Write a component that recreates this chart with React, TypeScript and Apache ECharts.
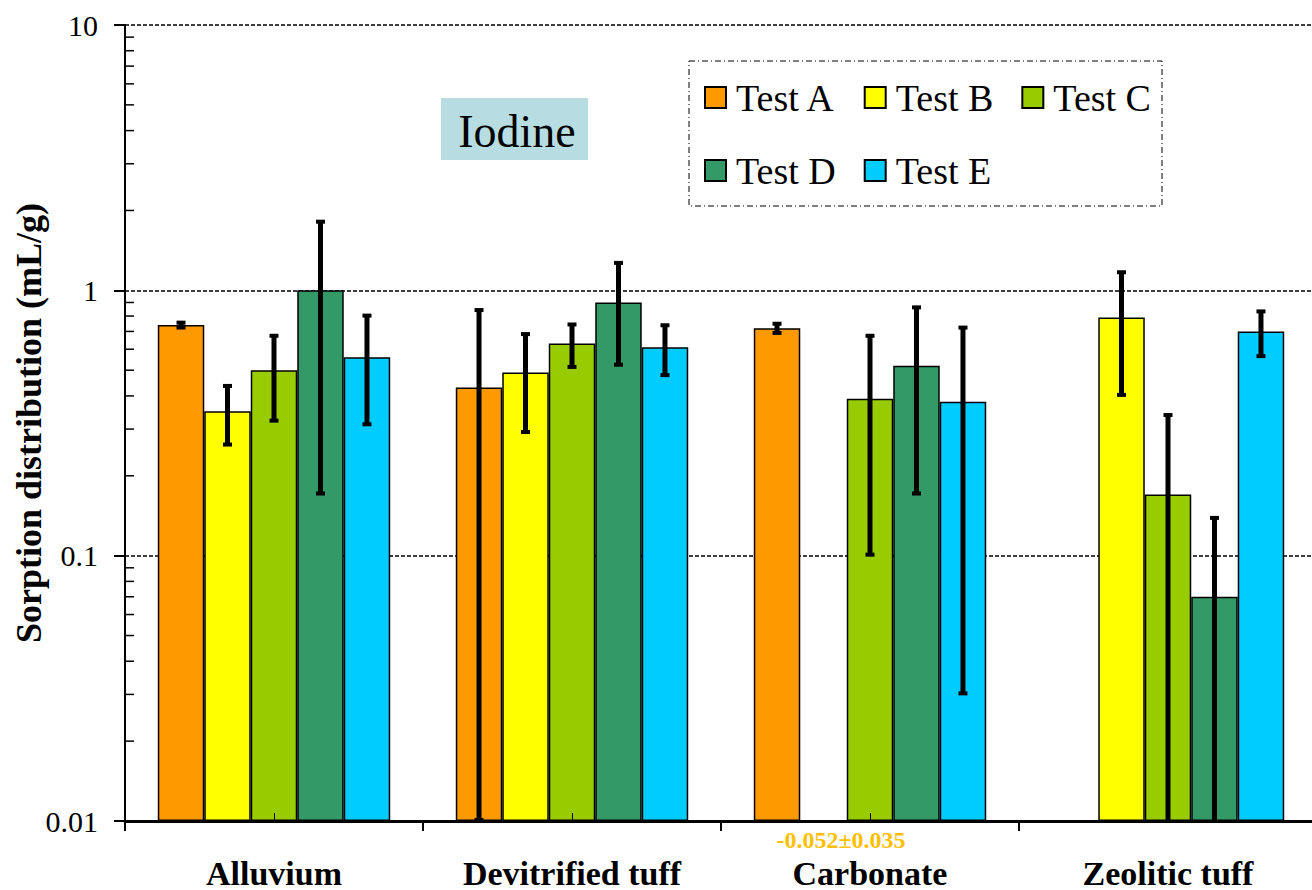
import React, { useEffect, useRef } from "react";
import * as echarts from "echarts";

const categories = ["Alluvium", "Devitrified tuff", "Carbonate", "Zeolitic tuff"];
const testNames = ["Test A", "Test B", "Test C", "Test D", "Test E"];
const testColors = ["#FF9900", "#FFFF00", "#99CC00", "#339966", "#00CCFF"];

const testA = [0.74, 0.43, 0.72, null];
const testB = [0.35, 0.49, null, 0.79];
const testC = [0.5, 0.63, 0.39, 0.17];
const testD = [1.0, 0.9, 0.52, 0.07];
const testE = [0.56, 0.61, 0.38, 0.7];

const errA = [0.022, 0.42, 0.035, null];
const errB = [0.09, 0.2, null, 0.39];
const errC = [0.18, 0.12, 0.29, 0.172];
const errD = [0.83, 0.38, 0.35, 0.07];
const errE = [0.25, 0.135, 0.35, 0.14];

const yTicks = ["0.01", "0.1", "1", "10"];
const minorTicks = [
  0.02, 0.03, 0.04, 0.05, 0.06, 0.07, 0.08, 0.09,
  0.2, 0.3, 0.4, 0.5, 0.6, 0.7, 0.8, 0.9,
  2, 3, 4, 5, 6, 7, 8, 9,
];
const noteText = "-0.052±0.035";

const values = [testA, testB, testC, testD, testE];
const errors = [errA, errB, errC, errD, errE];

const FONT = "Liberation Serif";
const Y_MIN = 0.01;

export default function App() {
  const ref = useRef<HTMLDivElement>(null);

  useEffect(() => {
    if (!ref.current) return;
    const chart = echarts.init(ref.current, undefined, { renderer: "svg" });

    const errData: any[] = [];
    values.forEach((arr, ti) => {
      arr.forEach((v, ci) => {
        const e = errors[ti][ci];
        if (v != null && e != null) errData.push([ci, ti, v, e]);
      });
    });

    const barSeries = testNames.map((name, ti) => ({
      name,
      type: "bar",
      xAxisIndex: 0,
      data: values[ti],
      barGap: "0%",
      barCategoryGap: "22%",
      itemStyle: { color: testColors[ti], borderColor: "#000", borderWidth: 1.5 },
      z: 2,
    }));

    const option: any = {
      animation: false,
      backgroundColor: "#fff",
      textStyle: { fontFamily: FONT, color: "#000" },
      grid: {
        left: 125,
        top: 25,
        width: 1192,
        height: 796,
        containLabel: false,
        outerBoundsMode: "none",
      },
      legend: {
        data: testNames,
        left: 704,
        top: 75,
        width: 470,
        padding: 0,
        itemGap: 28,
        itemWidth: 21,
        itemHeight: 21,
        icon: "rect",
        itemStyle: { borderColor: "#000", borderWidth: 2 },
        textStyle: {
          fontFamily: FONT,
          fontSize: 38,
          color: "#000",
          lineHeight: 45,
          padding: [0, 0, 0, 5],
        },
      },
      xAxis: [
        {
          type: "category",
          data: categories,
          position: "bottom",
          axisLine: { show: true, lineStyle: { color: "#000", width: 3 } },
          axisTick: { show: true, length: 10, lineStyle: { color: "#000", width: 2 } },
          axisLabel: {
            fontFamily: FONT,
            fontSize: 34,
            fontWeight: "bold",
            color: "#000",
            margin: 35,
          },
          splitLine: { show: false },
        },
        {
          type: "category",
          data: categories,
          position: "bottom",
          z: 10,
          axisLine: { show: false },
          axisTick: {
            show: true,
            alignWithLabel: true,
            inside: true,
            length: 8,
            lineStyle: { color: "#000", width: 1 },
          },
          axisLabel: { show: false },
          splitLine: { show: false },
        },
      ],
      yAxis: {
        type: "log",
        min: Y_MIN,
        max: 10,
        logBase: 10,
        startValue: Y_MIN,
        name: "Sorption distribution (mL/g)",
        nameLocation: "middle",
        nameRotate: 90,
        nameGap: 78,
        nameMoveOverlap: false,
        nameTextStyle: { fontFamily: FONT, fontSize: 36, fontWeight: "bold", color: "#000" },
        axisLine: { show: true, lineStyle: { color: "#000", width: 2 } },
        axisTick: { show: true, length: 11, lineStyle: { color: "#000", width: 2 } },
        axisLabel: {
          fontFamily: FONT,
          fontSize: 30,
          color: "#000",
          margin: 27,
          formatter: (v: number) => {
            const s = yTicks.find((t) => Math.abs(parseFloat(t) - v) < v * 1e-6);
            return "{t|" + (s ?? String(v)) + "}";
          },
          rich: {
            t: { fontFamily: FONT, fontSize: 30, color: "#000" },
          },
        },
        splitLine: {
          show: true,
          lineStyle: { color: "#000", width: 1.5, type: [4, 2] },
        },
      },
      graphic: [
        {
          type: "rect",
          shape: { x: 689, y: 61, width: 473, height: 145 },
          style: { fill: "#fff", stroke: "#000", lineWidth: 1, lineDash: [6, 3, 1, 3] },
          z: 0,
        },
        {
          type: "rect",
          shape: { x: 441, y: 98, width: 147, height: 62 },
          style: { fill: "#B7DDE3" },
          z: 5,
        },
        {
          type: "text",
          x: 517,
          y: 131,
          style: {
            text: "Iodine",
            fontFamily: FONT,
            fontSize: 46,
            fill: "#000",
            align: "center",
            verticalAlign: "middle",
          },
          z: 6,
        },
        {
          type: "text",
          x: 841,
          y: 840,
          style: {
            text: noteText,
            fontFamily: FONT,
            fontSize: 24,
            fontWeight: "bold",
            fill: "#FFC000",
            align: "center",
            verticalAlign: "middle",
          },
          z: 6,
        },
      ],
      series: [
        ...barSeries,
        {
          name: "errors",
          type: "custom",
          xAxisIndex: 0,
          z: 5,
          silent: true,
          encode: { x: 0, y: 2 },
          data: errData,
          renderItem: (params: any, api: any) => {
            const ci = api.value(0);
            const ti = api.value(1);
            const v = api.value(2);
            const e = api.value(3);
            const band = api.size([1, 1])[0];
            const c = api.coord([ci, v]);
            const bw = (band * 0.78) / 5;
            const x = c[0] - band * 0.39 + (ti + 0.5) * bw;
            const top = api.coord([ci, v + e])[1];
            const lowVal = v - e;
            const bot = api.coord([ci, Math.max(lowVal, Y_MIN)])[1];
            const children: any[] = [
              {
                type: "rect",
                shape: { x: x - 2.5, y: top, width: 5, height: bot - top },
                style: { fill: "#000" },
              },
              {
                type: "rect",
                shape: { x: x - 4.5, y: top - 1, width: 9, height: 4 },
                style: { fill: "#000" },
              },
            ];
            if (lowVal > Y_MIN) {
              children.push({
                type: "rect",
                shape: { x: x - 4.5, y: bot - 3, width: 9, height: 4 },
                style: { fill: "#000" },
              });
            }
            return { type: "group", children };
          },
        },
        {
          name: "minorTicks",
          type: "custom",
          xAxisIndex: 0,
          z: 5,
          silent: true,
          encode: { x: 0, y: 1 },
          data: minorTicks.map((m) => [0, m]),
          renderItem: (params: any, api: any) => {
            const y = api.coord([0, api.value(1)])[1];
            const x0 = params.coordSys.x;
            return {
              type: "line",
              shape: { x1: x0, y1: y, x2: x0 + 9, y2: y },
              style: { stroke: "#000", lineWidth: 1.5 },
            };
          },
        },
      ],
    };

    chart.setOption(option);
    return () => chart.dispose();
  }, []);

  return (
    <div
      ref={ref}
      style={{
        position: "fixed",
        left: 0,
        top: 0,
        width: 1312,
        height: 890,
        background: "#fff",
      }}
    />
  );
}
